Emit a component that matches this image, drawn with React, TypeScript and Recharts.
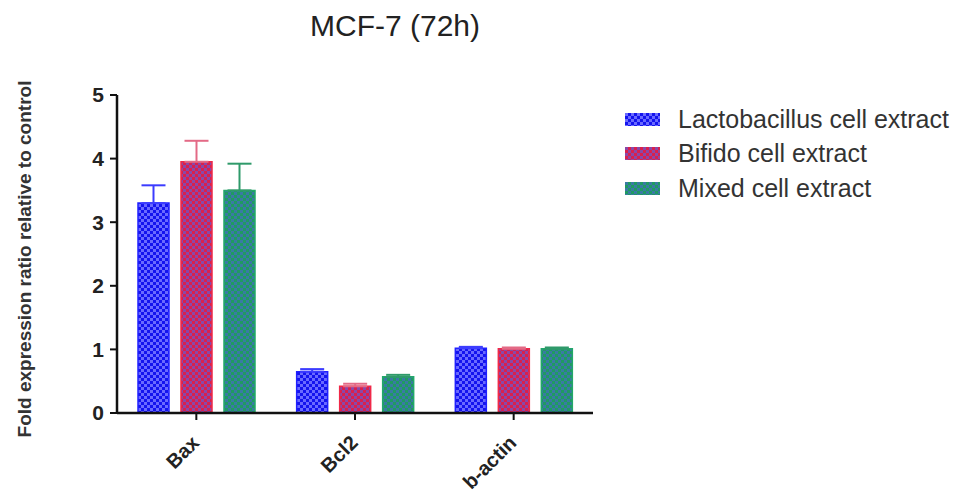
import { BarChart, Bar, XAxis, YAxis, ErrorBar } from 'recharts'

const genes = ['Bax', 'Bcl2', 'b-actin']
const seriesNames = ['Lactobacillus cell extract', 'Bifido cell extract', 'Mixed cell extract']
const lactoValues = [3.3, 0.65, 1.02]
const lactoErrors = [0.28, 0.04, 0.02]
const bifidoValues = [3.95, 0.42, 1.01]
const bifidoErrors = [0.33, 0.04, 0.02]
const mixedValues = [3.5, 0.57, 1.01]
const mixedErrors = [0.42, 0.03, 0.02]
const yTicks = [0, 1, 2, 3, 4, 5]

const FONT = '"Liberation Sans", Arial, Helvetica, sans-serif'

// only the upper half of each error bar is drawn, like the original figure
const data = genes.map((gene, i) => ({
  gene,
  lacto: lactoValues[i],
  bifido: bifidoValues[i],
  mixed: mixedValues[i],
  lactoErr: [0, lactoErrors[i]],
  bifidoErr: [0, bifidoErrors[i]],
  mixedErr: [0, mixedErrors[i]],
}))

const series = [
  { key: 'lacto', name: seriesNames[0], base: '#1414ee', dot: '#6a6aff', stroke: '#2020ff', err: '#3c3cff' },
  { key: 'bifido', name: seriesNames[1], base: '#d8204e', dot: '#8a48a8', stroke: '#f02848', err: '#e36a86' },
  { key: 'mixed', name: seriesNames[2], base: '#1f9a62', dot: '#3a7aa4', stroke: '#22a86a', err: '#2f9a6a' },
]

const Patterns = () => (
  <svg width={0} height={0} style={{ position: 'absolute' }}>
    <defs>
      {series.map((s) => (
        <pattern key={s.key} id={`pat-${s.key}`} width={6} height={6} patternUnits="userSpaceOnUse">
          <rect width={6} height={6} fill={s.base} />
          <rect x={0} y={0} width={3} height={3} fill={s.dot} />
          <rect x={3} y={3} width={3} height={3} fill={s.dot} />
        </pattern>
      ))}
    </defs>
  </svg>
)

const GeneTick = ({ x, y, payload }: { x: number; y: number; payload: { value: string } }) => {
  const tx = x + 4
  const ty = y + 22
  return (
    <text
      x={tx}
      y={ty}
      transform={`rotate(-45 ${tx} ${ty})`}
      textAnchor="end"
      fontFamily={FONT}
      fontWeight="bold"
      fontSize={20}
      fill="#222"
    >
      {payload.value}
    </text>
  )
}

const YLabel = ({ viewBox }: { viewBox?: { x: number; y: number; width: number; height: number } }) => {
  if (!viewBox) return null
  const cx = viewBox.x - 33
  const cy = viewBox.y + viewBox.height / 2 + 5
  return (
    <text
      x={cx}
      y={cy}
      transform={`rotate(-90 ${cx} ${cy})`}
      textAnchor="middle"
      dominantBaseline="central"
      fontFamily={FONT}
      fontWeight="bold"
      fontSize={19}
      fill="#333"
    >
      Fold expression ratio relative to control
    </text>
  )
}

export default function App() {
  return (
    <div style={{ position: 'absolute', left: 0, top: 0, width: 960, height: 494, background: '#fff', fontFamily: FONT }}>
      <Patterns />
      <div
        style={{
          position: 'absolute',
          left: 395,
          top: 9,
          transform: 'translateX(-50%)',
          fontSize: 30,
          color: '#222',
          whiteSpace: 'nowrap',
        }}
      >
        MCF-7 (72h)
      </div>

      <BarChart
        width={960}
        height={494}
        data={data}
        margin={{ top: 95, right: 367, bottom: 0, left: 57 }}
        barSize={31}
        barGap={12}
      >
        <XAxis
          dataKey="gene"
          height={81}
          tick={GeneTick}
          tickSize={7}
          tickLine={{ stroke: '#111', strokeWidth: 2 }}
          axisLine={{ stroke: '#111', strokeWidth: 2.5 }}
          interval={0}
        />
        <YAxis
          width={60}
          domain={[0, 5]}
          ticks={yTicks}
          tickSize={7}
          tickMargin={6}
          tickLine={{ stroke: '#111', strokeWidth: 2 }}
          axisLine={{ stroke: '#111', strokeWidth: 2.5 }}
          tick={{ fontSize: 21, fontWeight: 'bold', fill: '#222', fontFamily: FONT }}
          label={<YLabel />}
        />
        {series.map((s) => (
          <Bar
            key={s.key}
            dataKey={s.key}
            name={s.name}
            fill={`url(#pat-${s.key})`}
            stroke={s.stroke}
            strokeWidth={1.5}
            isAnimationActive={false}
          >
            <ErrorBar dataKey={`${s.key}Err`} width={12} stroke={s.err} strokeWidth={2} isAnimationActive={false} />
          </Bar>
        ))}
      </BarChart>

      <div style={{ position: 'absolute', left: 625, top: 102 }}>
        {series.map((s) => (
          <div key={s.key} style={{ display: 'flex', alignItems: 'center', height: 34.5 }}>
            <svg width={35} height={13} style={{ marginRight: 18 }}>
              <rect width={35} height={13} fill={`url(#pat-${s.key})`} />
            </svg>
            <span style={{ fontSize: 25, color: '#333', whiteSpace: 'nowrap' }}>{s.name}</span>
          </div>
        ))}
      </div>
    </div>
  )
}
